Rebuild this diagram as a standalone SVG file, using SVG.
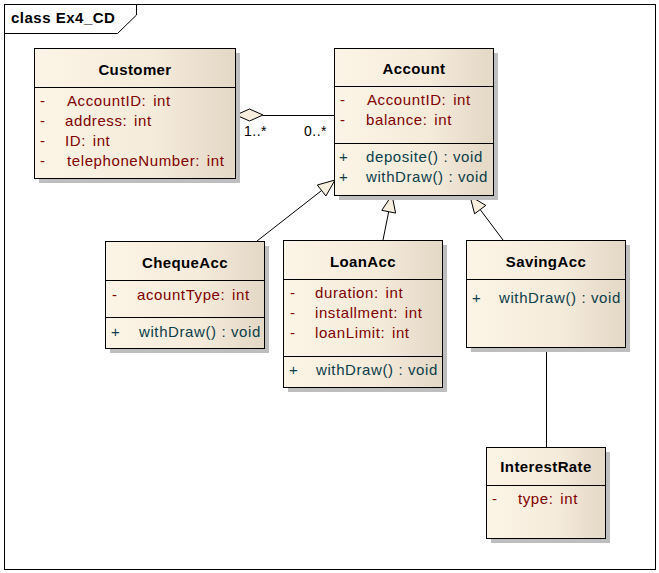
<svg xmlns="http://www.w3.org/2000/svg" width="659" height="573" viewBox="0 0 659 573">
<style>
text{font-family:"Liberation Sans",Arial,sans-serif;font-size:15px;letter-spacing:0.6px}
.t{font-weight:bold;text-anchor:middle;fill:#000;letter-spacing:0.4px}
.a{fill:#800000;word-spacing:2px}
.m{fill:#0B3D4A}
.box{fill:url(#g);stroke:#000;stroke-width:1}
.sh{fill:#BEBEBE}
.ln{stroke:#000;stroke-width:1;fill:none}
.hd{fill:#F8EEDD;stroke:#000;stroke-width:1}
.lbl{fill:#000;font-size:14px;letter-spacing:0.5px}
</style>
<defs>
<linearGradient id="g" x1="0" y1="0" x2="1" y2="0">
<stop offset="0" stop-color="#FCF4E6"/>
<stop offset="0.6" stop-color="#F5EBDB"/>
<stop offset="1" stop-color="#E3D7C5"/>
</linearGradient>
</defs>
<rect x="0" y="0" width="659" height="573" fill="#fff"/>
<g id="frame">
<rect x="4.5" y="4.5" width="651" height="565" fill="none" stroke="#000"/>
<path d="M4.5,33.5 H117.5 L136.5,15 V4.5" class="ln"/>
<text x="11" y="23" style="font-weight:bold;letter-spacing:0.5px">class Ex4_CD</text>
</g>
<g id="connectors">
<line x1="263" y1="115.5" x2="334" y2="115.5" class="ln"/>
<polygon points="236,115 249.5,109 263,115 249.5,121" class="hd"/>
<text x="244" y="136" class="lbl">1..*</text>
<text x="304" y="136" class="lbl">0..*</text>
<line x1="257" y1="241" x2="321.6" y2="190.5" class="ln"/>
<polygon points="335,180 325.9,196 317.3,185" class="hd"/>
<line x1="383" y1="240" x2="388.7" y2="211.7" class="ln"/>
<polygon points="392,195 395.6,213.1 381.8,210.3" class="hd"/>
<line x1="503" y1="240" x2="480.2" y2="209.6" class="ln"/>
<polygon points="470,196 485.8,205.4 474.6,213.8" class="hd"/>
<line x1="546.5" y1="347" x2="546.5" y2="447" class="ln"/>
</g>
<g id="Customer">
<rect x="39" y="53" width="201" height="130" class="sh"/>
<rect x="34.5" y="48.5" width="201" height="130" class="box"/>
<line x1="34.5" y1="87.5" x2="235.5" y2="87.5" class="ln"/>
<text x="135" y="75" class="t">Customer</text>
<text x="40" y="106" class="a">-</text><text x="67" y="106" class="a">AccountID: int</text>
<text x="40" y="126" class="a">-</text><text x="65" y="126" class="a">address: int</text>
<text x="40" y="146" class="a">-</text><text x="65" y="146" class="a">ID: int</text>
<text x="40" y="166" class="a">-</text><text x="67" y="166" class="a">telephoneNumber: int</text>
</g>
<g id="Account">
<rect x="339" y="53" width="159" height="147" class="sh"/>
<rect x="334.5" y="48.5" width="159" height="147" class="box"/>
<line x1="334.5" y1="86.5" x2="493.5" y2="86.5" class="ln"/>
<line x1="334.5" y1="143.5" x2="493.5" y2="143.5" class="ln"/>
<text x="414" y="74" class="t">Account</text>
<text x="340" y="105" class="a">-</text><text x="367" y="105" class="a">AccountID: int</text>
<text x="340" y="125" class="a">-</text><text x="366" y="125" class="a">balance: int</text>
<text x="339" y="162" class="m">+</text><text x="366" y="162" class="m">deposite() : void</text>
<text x="339" y="182" class="m">+</text><text x="366" y="182" class="m">withDraw() : void</text>
</g>
<g id="ChequeAcc">
<rect x="110" y="246" width="159" height="107" class="sh"/>
<rect x="105.5" y="241.5" width="159" height="107" class="box"/>
<line x1="105.5" y1="280.5" x2="264.5" y2="280.5" class="ln"/>
<line x1="105.5" y1="317.5" x2="264.5" y2="317.5" class="ln"/>
<text x="185" y="268" class="t">ChequeAcc</text>
<text x="112" y="300" class="a">-</text><text x="137" y="300" class="a">acountType: int</text>
<text x="111" y="337" class="m">+</text><text x="139" y="337" class="m">withDraw() : void</text>
</g>
<g id="LoanAcc">
<rect x="288" y="245" width="159" height="147" class="sh"/>
<rect x="283.5" y="240.5" width="159" height="147" class="box"/>
<line x1="283.5" y1="279.5" x2="442.5" y2="279.5" class="ln"/>
<line x1="283.5" y1="356.5" x2="442.5" y2="356.5" class="ln"/>
<text x="363" y="267" class="t">LoanAcc</text>
<text x="290" y="298" class="a">-</text><text x="315" y="298" class="a">duration: int</text>
<text x="290" y="318" class="a">-</text><text x="315" y="318" class="a">installment: int</text>
<text x="290" y="338" class="a">-</text><text x="315" y="338" class="a">loanLimit: int</text>
<text x="289" y="375" class="m">+</text><text x="316" y="375" class="m">withDraw() : void</text>
</g>
<g id="SavingAcc">
<rect x="471" y="245" width="159" height="107" class="sh"/>
<rect x="466.5" y="240.5" width="159" height="107" class="box"/>
<line x1="466.5" y1="279.5" x2="625.5" y2="279.5" class="ln"/>
<text x="546" y="267" class="t">SavingAcc</text>
<text x="472" y="303" class="m">+</text><text x="499" y="303" class="m">withDraw() : void</text>
</g>
<g id="InterestRate">
<rect x="491" y="452" width="119" height="91" class="sh"/>
<rect x="486.5" y="447.5" width="119" height="91" class="box"/>
<line x1="486.5" y1="485.5" x2="605.5" y2="485.5" class="ln"/>
<text x="546" y="472" class="t">InterestRate</text>
<text x="492" y="504" class="a">-</text><text x="518" y="504" class="a">type: int</text>
</g>
</svg>
